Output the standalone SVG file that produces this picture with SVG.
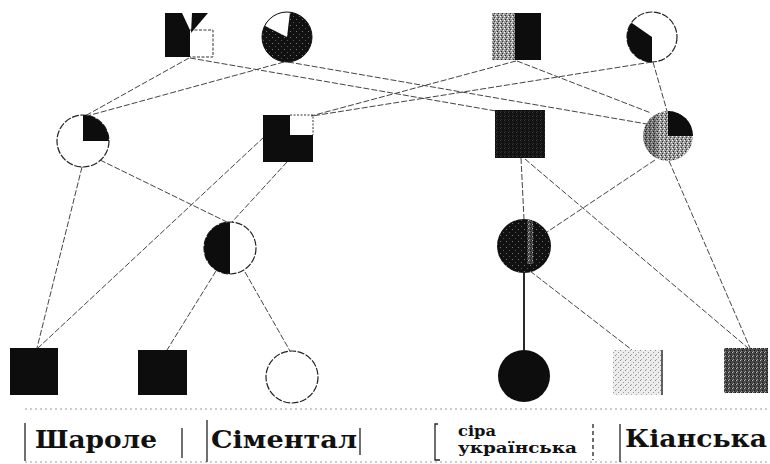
<svg xmlns="http://www.w3.org/2000/svg" width="770" height="464" viewBox="0 0 770 464">
<defs>
<pattern id="pLight" width="5" height="5" patternUnits="userSpaceOnUse">
<rect width="5" height="5" fill="#ececec"/>
<rect x="0" y="0" width="1" height="1" fill="#888"/>
<rect x="3" y="2" width="1" height="1" fill="#999"/>
<rect x="1" y="4" width="1" height="1" fill="#aaa"/>
</pattern>
<pattern id="pMid" width="4" height="4" patternUnits="userSpaceOnUse">
<rect width="4" height="4" fill="#9a9a9a"/>
<rect x="0" y="0" width="1" height="1" fill="#fff"/>
<rect x="2" y="1" width="1" height="1" fill="#333"/>
<rect x="1" y="3" width="1" height="1" fill="#222"/>
<rect x="3" y="2" width="1" height="1" fill="#eee"/>
</pattern>
<pattern id="pDark" width="4" height="4" patternUnits="userSpaceOnUse">
<rect width="4" height="4" fill="#4a4a4a"/>
<rect x="0" y="0" width="1" height="1" fill="#bbb"/>
<rect x="2" y="2" width="1" height="1" fill="#111"/>
<rect x="3" y="0" width="1" height="1" fill="#111"/>
<rect x="1" y="3" width="1" height="1" fill="#999"/>
</pattern>
<pattern id="pBlack" width="6" height="6" patternUnits="userSpaceOnUse">
<rect width="6" height="6" fill="#111"/>
<rect x="2" y="1" width="1" height="1" fill="#777"/>
<rect x="5" y="4" width="1" height="1" fill="#555"/>
</pattern>
<clipPath id="c10"><circle cx="524" cy="246" r="27"/></clipPath>
<clipPath id="c8"><circle cx="668" cy="136" r="25"/></clipPath>
</defs>
<style>
.ln{stroke:#444;stroke-width:1;fill:none;stroke-dasharray:6 2}
.ol{stroke:#222;stroke-width:1.2;fill:#fff;stroke-dasharray:7 1.5}
.blk{fill:#0d0d0d}
.bx{stroke:#222;stroke-width:1.3;fill:none}
.bxd{stroke:#999;stroke-width:1;fill:none;stroke-dasharray:2 3}
.lbl{font-family:"DejaVu Serif","Liberation Serif",serif;font-weight:bold;fill:#111}
</style>
<rect width="770" height="464" fill="#fff"/>
<g id="connectors">
<line class="ln" x1="189" y1="58" x2="85" y2="116"/>
<line class="ln" x1="284" y1="62" x2="87" y2="116"/>
<line class="ln" x1="190" y1="58" x2="496" y2="111"/>
<line class="ln" x1="288" y1="62" x2="647" y2="124"/>
<line class="ln" x1="516" y1="61" x2="311" y2="116"/>
<line class="ln" x1="652" y1="62" x2="312" y2="116"/>
<line class="ln" x1="517" y1="61" x2="651" y2="113"/>
<line class="ln" x1="653" y1="62" x2="667" y2="111"/>
<line class="ln" x1="82" y1="167" x2="37" y2="348"/>
<line class="ln" x1="100" y1="160" x2="229" y2="223"/>
<line class="ln" x1="287" y1="162" x2="232" y2="222"/>
<line class="ln" x1="264" y1="137" x2="38" y2="348"/>
<line class="ln" x1="216" y1="271" x2="167" y2="350"/>
<line class="ln" x1="245" y1="272" x2="290" y2="351"/>
<line class="ln" x1="521" y1="158" x2="524" y2="219"/>
<line class="ln" x1="525" y1="159" x2="748" y2="348"/>
<line class="ln" x1="655" y1="160" x2="547" y2="232"/>
<line class="ln" x1="669" y1="161" x2="750" y2="348"/>
<line x1="524" y1="273" x2="524" y2="350" stroke="#111" stroke-width="1.8"/>
<line class="ln" x1="530" y1="271" x2="632" y2="350"/>
</g>
<g id="n1">
<path d="M190,30 L213,30 L213,57 L190,57" fill="none" stroke="#333" stroke-width="1" stroke-dasharray="3 1.5"/>
<path class="blk" d="M165,13 L182,13 L190,30 L190,57 L165,57 Z"/>
<path class="blk" d="M192,13 L208,13 L191,33 Z"/>
</g>
<g id="n2">
<circle cx="287" cy="37" r="25" fill="url(#pBlack)"/>
<path d="M287,37 L264.7,25.7 A25,25 0 0 1 290,12.2 Z" fill="#fff"/>
<circle cx="287" cy="37" r="25" fill="none" stroke="#111" stroke-width="1"/>
</g>
<g id="n3">
<rect x="492" y="13" width="24" height="47" fill="url(#pMid)"/>
<rect class="blk" x="515" y="13" width="26" height="47"/>
</g>
<g id="n4">
<circle class="ol" cx="652" cy="37" r="25"/>
<path class="blk" d="M652,37 L652,62 A25,25 0 0 1 631.5,22.7 Z"/>
</g>
<g id="n5">
<circle class="ol" cx="83" cy="141" r="26"/>
<path class="blk" d="M83,141 L83,115 A26,26 0 0 1 109,141 Z"/>
</g>
<g id="n6">
<path class="blk" d="M263,115 H290 V135 H313 V162 H263 Z"/>
<path d="M290,115 H313 V135" fill="none" stroke="#333" stroke-width="1" stroke-dasharray="2 1.5"/>
</g>
<g id="n7">
<rect x="495" y="110" width="50" height="48" fill="url(#pDark)"/>
<rect x="495" y="110" width="50" height="48" fill="#000" opacity="0.7"/>
</g>
<g id="n8">
<circle cx="668" cy="136" r="25" fill="url(#pMid)"/>
<rect x="643" y="111" width="14" height="50" fill="#000" opacity="0.25" clip-path="url(#c8)"/>
<path class="blk" d="M668,136 L668,111 A25,25 0 0 1 693,136 Z"/>
</g>
<g id="n10">
<circle cx="524" cy="246" r="27" fill="url(#pBlack)"/>
<rect x="527" y="220" width="6" height="44" fill="url(#pDark)" clip-path="url(#c10)"/>
</g>
<g id="n9">
<circle class="ol" cx="230" cy="248" r="26"/>
<path class="blk" d="M230,222 A26,26 0 0 0 230,274 Z"/>
</g>
<g id="n11"><rect class="blk" x="10" y="348" width="48" height="47"/></g>
<g id="n12"><rect class="blk" x="138" y="350" width="49" height="45"/></g>
<g id="n13"><circle class="ol" cx="292" cy="377" r="26"/></g>
<g id="n14"><circle class="blk" cx="524" cy="376" r="26"/></g>
<g id="n15">
<rect x="613" y="350" width="50" height="45" fill="url(#pLight)"/>
<line x1="662" y1="350" x2="662" y2="395" stroke="#333" stroke-width="1.5"/>
</g>
<g id="n16"><rect x="724" y="348" width="44" height="45" fill="url(#pDark)"/></g>
<g id="labels">
<line class="bxd" x1="25" y1="409" x2="770" y2="409" stroke="#ccc"/>
<line class="bxd" x1="25" y1="462" x2="770" y2="462"/>
<line class="bx" x1="25" y1="423" x2="25" y2="461"/>
<line class="bx" x1="182" y1="428" x2="182" y2="458"/>
<text class="lbl" x="35" y="448" font-size="25" textLength="122" lengthAdjust="spacingAndGlyphs">Шароле</text>
<line class="bx" x1="207" y1="420" x2="207" y2="462"/>
<line class="bx" x1="360" y1="428" x2="360" y2="455" stroke-width="2"/>
<text class="lbl" x="211" y="448" font-size="25" textLength="146" lengthAdjust="spacingAndGlyphs">Сіментал</text>
<path class="bx" d="M438,424 L435,424 L435,460 L440,460"/>
<line class="bx" x1="593" y1="424" x2="593" y2="460" stroke-dasharray="4 3"/>
<text class="lbl" x="458" y="436" font-size="14" textLength="38" lengthAdjust="spacingAndGlyphs">сіра</text>
<text class="lbl" x="458" y="453" font-size="14" textLength="119" lengthAdjust="spacingAndGlyphs">українська</text>
<line class="bx" x1="620" y1="424" x2="620" y2="462"/>
<text class="lbl" x="625" y="447" font-size="25" textLength="142" lengthAdjust="spacingAndGlyphs">Кіанська</text>
</g>
</svg>
